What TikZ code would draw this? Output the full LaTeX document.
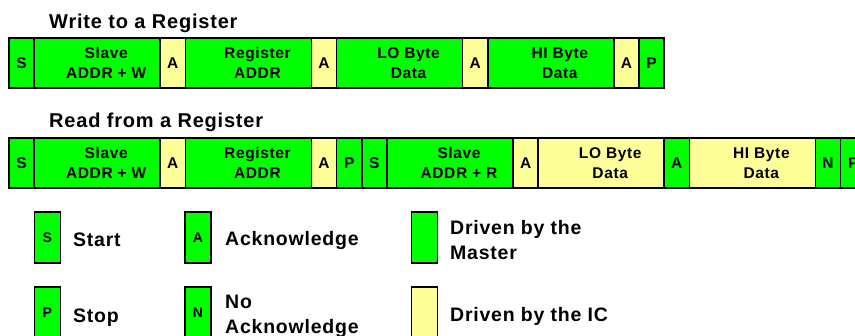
\documentclass[tikz,border=0pt]{standalone}
\usepackage{fontspec}
\setmainfont{Liberation Sans}[LetterSpace=4]
\usetikzlibrary{positioning}
\definecolor{mgreen}{HTML}{00FF00}
\definecolor{icyellow}{HTML}{FFFF99}
\tikzset{
  cell/.style={draw=black, line width=1.5pt, inner sep=0pt, outer sep=0pt, minimum height=50pt,
    font=\fontsize{15.5}{19.5}\selectfont\bfseries, align=center},
  shortcell/.style={cell, minimum width=25.2pt},
  longcell/.style={cell, minimum width=126pt},
  master/.style={fill=mgreen},
  ic/.style={fill=icyellow},
  celltext/.style={font=\fontsize{15.5}{19.5}\selectfont\bfseries, align=center, inner sep=0pt, outer sep=0pt, xshift=9pt},
  title/.style={font=\fontsize{20}{24}\selectfont\bfseries, inner sep=0pt, anchor=base west},
  legbox/.style={draw=black, line width=1.5pt, inner sep=0pt, outer sep=0pt, minimum width=26pt, minimum height=51pt,
    font=\fontsize{14}{16}\selectfont\bfseries},
  legtext/.style={font=\fontsize{19.5}{25}\selectfont\bfseries, inner sep=0pt, anchor=base west, align=left}
}
\begin{document}
\begin{tikzpicture}[x=1pt, y=-1pt]
\fill[white] (0,0) rectangle (855,336);
\useasboundingbox (0,0) rectangle (855,336);

% Titles
\node[title] (t1) at (49,28.7) {Write to a Register};
\node[title] (t2) at (49,128) {Read from a Register};

% Write row
\node[shortcell, master, anchor=west] (w1) at (9,63) {S};
\node[longcell, master, right=0pt of w1, label={[celltext]center:{Slave\\ADDR + W}}] (w2) {};
\node[shortcell, ic, right=0pt of w2] (w3) {A};
\node[longcell, master, right=0pt of w3, label={[celltext]center:{Register\\ADDR}}] (w4) {};
\node[shortcell, ic, right=0pt of w4] (w5) {A};
\node[longcell, master, right=0pt of w5, label={[celltext]center:{LO Byte\\Data}}] (w6) {};
\node[shortcell, ic, right=0pt of w6] (w7) {A};
\node[longcell, master, right=0pt of w7, label={[celltext]center:{HI Byte\\Data}}] (w8) {};
\node[shortcell, ic, right=0pt of w8] (w9) {A};
\node[shortcell, master, right=0pt of w9] (w10) {P};

% Read row
\node[shortcell, master, anchor=west] (r1) at (9,163) {S};
\node[longcell, master, right=0pt of r1, label={[celltext]center:{Slave\\ADDR + W}}] (r2) {};
\node[shortcell, ic, right=0pt of r2] (r3) {A};
\node[longcell, master, right=0pt of r3, label={[celltext]center:{Register\\ADDR}}] (r4) {};
\node[shortcell, ic, right=0pt of r4] (r5) {A};
\node[shortcell, master, right=0pt of r5] (r6) {P};
\node[shortcell, master, right=0pt of r6] (r7) {S};
\node[longcell, master, right=0pt of r7, label={[celltext]center:{Slave\\ADDR + R}}] (r8) {};
\node[shortcell, ic, right=0pt of r8] (r9) {A};
\node[longcell, ic, right=0pt of r9, label={[celltext]center:{LO Byte\\Data}}] (r10) {};
\node[shortcell, master, right=0pt of r10] (r11) {A};
\node[longcell, ic, right=0pt of r11, label={[celltext]center:{HI Byte\\Data}}] (r12) {};
\node[shortcell, master, right=0pt of r12] (r13) {N};
\node[shortcell, master, right=0pt of r13] (r14) {P};

% Legend
\node[legbox, master] (lS) at (47.3,237.5) {S};
\node[legtext] (tS) at (73,247) {Start};
\node[legbox, master] (lA) at (198,237.5) {A};
\node[legtext] (tA) at (225,246) {Acknowledge};
\node[legbox, master] (lM) at (424.4,237.5) {};
\node[legtext] (tM) at (450,259.5) {Driven by the\\Master};

\node[legbox, master] (lP) at (47.3,312.5) {P};
\node[legtext] (tP) at (73,322.7) {Stop};
\node[legbox, master] (lN) at (198,312.5) {N};
\node[legtext] (tN) at (225,333.5) {No\\Acknowledge};
\node[legbox, ic] (lI) at (424.4,312.5) {};
\node[legtext] (tI) at (450,321.7) {Driven by the IC};
\end{tikzpicture}
\end{document}
